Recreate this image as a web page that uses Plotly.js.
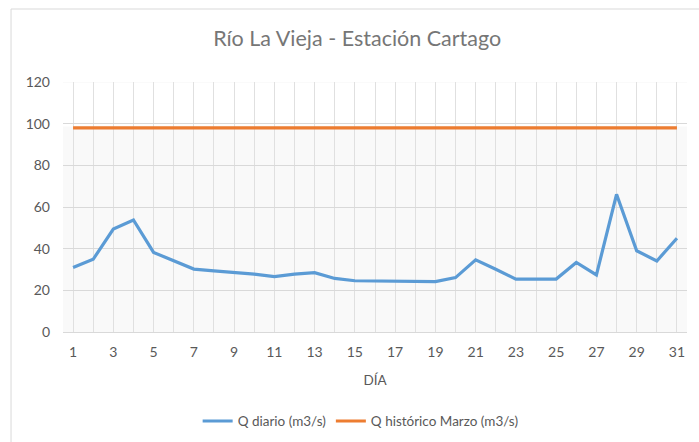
<!DOCTYPE html>
<html>
<head>
<meta charset="utf-8">
<script src="https://cdn.plot.ly/plotly-3.0.1.min.js"></script>
<style>html,body{margin:0;padding:0;background:#fff;}#chart{width:699px;height:442px;}</style>
</head>
<body>
<div id="chart"></div>
<script>
const dias = [1,2,3,4,5,6,7,8,9,10,11,12,13,14,15,16,17,18,19,20,21,22,23,24,25,26,27,28,29,30,31];
const qDiario = [31.0,34.9,49.4,53.8,38.2,34.1,30.2,29.3,28.6,27.8,26.6,27.8,28.5,25.7,24.6,24.5,24.2,24.2,24.2,26.1,34.6,30.1,25.4,25.4,25.4,33.4,27.4,66.1,39.0,34.1,45.0];
const qHistorico = [98,98,98,98,98,98,98,98,98,98,98,98,98,98,98,98,98,98,98,98,98,98,98,98,98,98,98,98,98,98,98];
const tickLabels = dias.map(d => (d % 2 === 1 ? String(d) : ''));
const yTicks = [0,20,40,60,80,100,120];

const font = 'Lato, "Open Sans", sans-serif';
const traces = [
  {x: dias, y: qDiario, type: 'scatter', mode: 'lines', name: 'Q diario (m3/s)',
   line: {color: '#5b9bd5', width: 3.2}},
  {x: dias, y: qHistorico, type: 'scatter', mode: 'lines', name: 'Q histórico Marzo (m3/s)',
   line: {color: '#ed7d31', width: 3.2}}
];
const layout = {
  width: 699, height: 442,
  margin: {l: 63, r: 12, t: 82, b: 110, autoexpand: false},
  paper_bgcolor: '#ffffff',
  plot_bgcolor: '#f9f9f9',
  font: {family: font, color: '#595959', size: 14},
  title: {text: 'Río La Vieja - Estación Cartago', font: {family: font, size: 21.5, color: '#767676'},
          x: 0.511, xanchor: 'center', y: 0.912, yanchor: 'middle'},
  xaxis: {range: [0.5, 31.5], tickmode: 'array', tickvals: dias, ticktext: tickLabels,
          showgrid: true, gridcolor: '#e0e0e0', gridwidth: 1, zeroline: false, showline: false,
          ticks: '', ticklen: 0, tickfont: {size: 14, color: '#595959'}, ticklabelstandoff: 10,
          title: {text: 'DÍA', font: {size: 13.5, color: '#595959'}, standoff: 16}},
  yaxis: {range: [0, 120], tickmode: 'array', tickvals: yTicks,
          showgrid: true, gridcolor: '#d9d9d9', gridwidth: 1, zeroline: true, zerolinecolor: '#d9d9d9',
          showline: false, ticks: '', tickfont: {size: 14, color: '#595959'}, ticklabelstandoff: 12},
  showlegend: true,
  legend: {orientation: 'h', x: 0.477, xanchor: 'center', yref: 'container', y: 0.047, yanchor: 'middle',
           font: {size: 13.5, color: '#595959'}, itemwidth: 30, tracegroupgap: 0},
  shapes: [
    {type: 'rect', xref: 'paper', yref: 'y', x0: 0, x1: 1, y0: 98.6, y1: 119.6,
     fillcolor: '#ffffff', line: {width: 0}, layer: 'between'},
    {type: 'rect', xref: 'paper', yref: 'paper', x0: -0.0833, x1: 1.2, y0: 1.292, y1: -0.6,
     fillcolor: 'rgba(0,0,0,0)', line: {color: '#d9d9d9', width: 1}, layer: 'above'}
  ]
};
Plotly.newPlot('chart', traces, layout, {staticPlot: true, displayModeBar: false});
</script>
</body>
</html>
